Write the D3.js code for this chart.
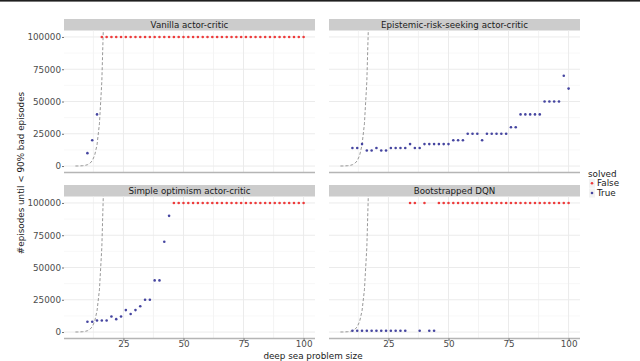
<!DOCTYPE html>
<html><head><meta charset="utf-8">
<script src="https://cdn.jsdelivr.net/npm/d3@7"></script>
<style>
html,body{margin:0;padding:0;background:#fff;}
svg{display:block;font-family:"DejaVu Sans",sans-serif;}
</style></head>
<body>
<svg id="chart" width="640" height="361"></svg>
<script>
// ---- data ----
const sizes = [10,12,14,16,18,20,22,24,26,28,30,32,34,36,38,40,42,44,46,48,50,52,54,56,58,60,62,64,66,68,70,72,74,76,78,80,82,84,86,88,90,92,94,96,98,100];
const vanilla = [10000,20000,40000,100000,100000,100000,100000,100000,100000,100000,100000,100000,100000,100000,100000,100000,100000,100000,100000,100000,100000,100000,100000,100000,100000,100000,100000,100000,100000,100000,100000,100000,100000,100000,100000,100000,100000,100000,100000,100000,100000,100000,100000,100000,100000,100000];
const epistemic = [14000,14000,17000,12000,12000,14000,12000,12000,14000,14000,14000,14000,17000,14000,14000,17000,17000,17000,17000,17000,17000,20000,20000,20000,25000,25000,25000,20000,25000,25000,25000,25000,25000,30000,30000,40000,40000,40000,40000,40000,50000,50000,50000,50000,70000,60000];
const optimism = [8000,8000,9000,9000,9000,12000,10000,12000,17000,14000,17000,20000,25000,25000,40000,40000,70000,90000,100000,100000,100000,100000,100000,100000,100000,100000,100000,100000,100000,100000,100000,100000,100000,100000,100000,100000,100000,100000,100000,100000,100000,100000,100000,100000,100000,100000];
const bootstrapped = [1000,1000,1000,1000,1000,1000,1000,1000,1000,1000,1000,1000,100000,100000,1000,100000,1000,1000,100000,100000,100000,100000,100000,100000,100000,100000,100000,100000,100000,100000,100000,100000,100000,100000,100000,100000,100000,100000,100000,100000,100000,100000,100000,100000,100000,100000];
const vanillaSolved = ["True","True","True"].concat(Array(43).fill("False"));
const epistemicSolved = Array(46).fill("True");
const optimismSolved = Array(18).fill("True").concat(Array(28).fill("False"));
const bootstrappedSolved = ["True","True","True","True","True","True","True","True","True","True","True","True","False","False","True","False","True","True"].concat(Array(28).fill("False"));
// reference curve 2^N
const curveX = [5,6,7,8,9,10,11,12,13,14,15,16,17];
const curveY = [32,64,128,256,512,1024,2048,4096,8192,16384,32768,65536,131072];
const panelTitles = ["Vanilla actor-critic","Epistemic-risk-seeking actor-critic","Simple optimism actor-critic","Bootstrapped DQN"];
const panelValues = [vanilla, epistemic, optimism, bootstrapped];
const panelSolved = [vanillaSolved, epistemicSolved, optimismSolved, bootstrappedSolved];
const xTicks = [25,50,75,100];
const xMinor = [12.5,37.5,62.5,87.5];
const yTicks = [0,25000,50000,75000,100000];
const yMinor = [12500,37500,62500,87500];
const legendLabels = ["False","True"];

// ---- layout ----
const svg = d3.select("#chart");
const colors = {False:"#ee3b3b", True:"#4545a0"};
const colLeft = [64, 329], panelW = 251;
const stripTop = [19, 185], stripH = 11.5;
const plotTop = [30.5, 196.5], plotH = 142;

// thin dark frame edge at top of the figure
svg.append("rect").attr("x",0).attr("y",0).attr("width",640).attr("height",1.6).attr("fill","#1f1f1f");

const x = d3.scaleLinear().domain([0.25,104.75]).range([0,panelW]);
const y = d3.scaleLinear().domain([-5000,105000]).range([plotH,0]);

const defs = svg.append("defs");
defs.append("clipPath").attr("id","clipP").append("rect").attr("x",0).attr("y",0).attr("width",panelW).attr("height",plotH);

panelTitles.forEach((title,i)=>{
  const r = Math.floor(i/2), c = i%2;
  const gx = colLeft[c];
  // strip
  svg.append("rect").attr("x",gx).attr("y",stripTop[r]).attr("width",panelW).attr("height",stripH).attr("fill","#cccccc");
  svg.append("text").attr("x",gx+panelW/2).attr("y",stripTop[r]+stripH/2).attr("dy","0.35em")
    .attr("text-anchor","middle").attr("font-size",8.7).attr("fill","#1a1a1a").text(title);
  const g = svg.append("g").attr("transform",`translate(${gx},${plotTop[r]})`);
  // grid
  g.selectAll(".xm").data(xMinor).join("line").attr("x1",d=>x(d)).attr("x2",d=>x(d)).attr("y1",0).attr("y2",plotH).attr("stroke","#f0f0f0").attr("stroke-width",0.8);
  g.selectAll(".ym").data(yMinor).join("line").attr("y1",d=>y(d)).attr("y2",d=>y(d)).attr("x1",0).attr("x2",panelW).attr("stroke","#f3f3f3").attr("stroke-width",0.6);
  g.selectAll(".xg").data(xTicks).join("line").attr("x1",d=>x(d)).attr("x2",d=>x(d)).attr("y1",0).attr("y2",plotH).attr("stroke","#ebebeb").attr("stroke-width",1);
  g.selectAll(".yg").data(yTicks).join("line").attr("y1",d=>y(d)).attr("y2",d=>y(d)).attr("x1",0).attr("x2",panelW).attr("stroke","#ebebeb").attr("stroke-width",1);
  // bottom axis line
  g.append("line").attr("x1",0).attr("x2",panelW).attr("y1",plotH).attr("y2",plotH).attr("stroke","#b5b5b5").attr("stroke-width",1.4);
  // curve
  const line = d3.line().x((d,j)=>x(curveX[j])).y(d=>y(d));
  g.append("path").datum(curveY).attr("d",line).attr("fill","none").attr("stroke","#8c8c8c")
    .attr("stroke-width",0.9).attr("stroke-dasharray","3,2").attr("clip-path","url(#clipP)");
  // points
  const vals = panelValues[i], sol = panelSolved[i];
  g.selectAll(".pt").data(vals).join("circle").attr("cx",(d,j)=>x(sizes[j])).attr("cy",d=>y(d))
    .attr("r",1.3).attr("fill",(d,j)=>colors[sol[j]]);
  // y axis
  if(c===0){
    const ax = g.append("g").call(d3.axisLeft(y).tickValues(yTicks).tickSize(2).tickPadding(1).tickFormat(d3.format("d")));
    ax.select(".domain").remove();
    ax.selectAll("line").attr("stroke","#4d4d4d").attr("stroke-width",0.8);
    ax.selectAll("text").attr("font-size",8.8).attr("fill","#4d4d4d").attr("font-family","DejaVu Sans, sans-serif");
  }
  if(r===1){
    const ax = g.append("g").attr("transform",`translate(0,${plotH})`).call(d3.axisBottom(x).tickValues(xTicks).tickSize(2.5).tickPadding(0));
    ax.select(".domain").remove();
    ax.selectAll("line").attr("stroke","#4d4d4d").attr("stroke-width",0.8);
    ax.selectAll("text").attr("font-size",8.8).attr("fill","#4d4d4d").attr("font-family","DejaVu Sans, sans-serif");
  }
});

// axis titles
svg.append("text").attr("x",313).attr("y",359).attr("text-anchor","middle").attr("font-size",8.8).attr("fill","#1a1a1a").text("deep sea problem size");
svg.append("text").attr("transform","translate(24,173) rotate(-90)").attr("text-anchor","middle").attr("font-size",8.8).attr("fill","#1a1a1a").text("#episodes until < 90% bad episodes");

// legend
const lg = svg.append("g");
lg.append("text").attr("x",588).attr("y",177).attr("font-size",8.8).attr("fill","#1a1a1a").text("solved");
legendLabels.forEach((lab,k)=>{
  const cy = 183.3 + k*9.7;
  lg.append("rect").attr("x",589).attr("y",cy-4.5).attr("width",6).attr("height",9).attr("fill","#f2f2f2");
  lg.append("circle").attr("cx",592).attr("cy",cy).attr("r",1.3).attr("fill",colors[lab]);
  lg.append("text").attr("x",597).attr("y",cy).attr("dy","0.35em").attr("font-size",8.8).attr("fill","#1a1a1a").text(lab);
});
</script>
</body></html>
